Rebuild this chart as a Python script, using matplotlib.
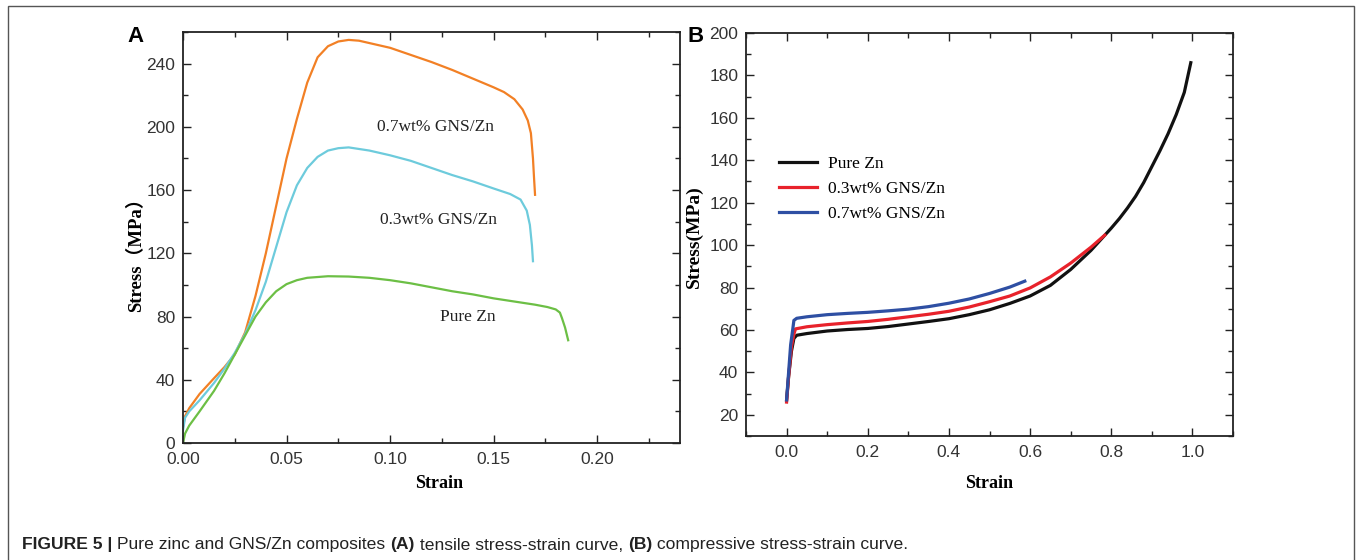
import matplotlib
matplotlib.use("Agg")
import matplotlib.pyplot as plt
from matplotlib.patches import Rectangle
from matplotlib.ticker import MultipleLocator, FormatStrFormatter

# ---------------- data: (A) tensile ----------------
a_x_07 = [0, 0.001, 0.003, 0.008, 0.015, 0.02, 0.025, 0.03, 0.035, 0.04, 0.045, 0.05,
          0.055, 0.06, 0.065, 0.07, 0.075, 0.08, 0.085, 0.09, 0.10, 0.11, 0.12, 0.13,
          0.14, 0.15, 0.155, 0.16, 0.164, 0.1665, 0.168, 0.169, 0.1695, 0.170]
a_y_07 = [10, 17, 22, 31, 41, 48, 56, 70, 93, 120, 150, 180,
          205, 228, 244, 251, 254, 255, 254.5, 253, 250, 245.5, 241, 236,
          230.5, 225, 222, 217.5, 211, 204, 196, 180, 168, 157]

a_x_03 = [0, 0.001, 0.003, 0.008, 0.015, 0.02, 0.025, 0.03, 0.035, 0.04, 0.045, 0.05,
          0.055, 0.06, 0.065, 0.07, 0.075, 0.08, 0.09, 0.10, 0.11, 0.12, 0.13, 0.14,
          0.15, 0.158, 0.163, 0.166, 0.1675, 0.1685, 0.169]
a_y_03 = [8, 16, 20, 27, 38, 47, 57, 69, 84, 102, 124, 146,
          163, 174, 181, 185, 186.5, 187, 185, 182, 178.5, 174, 169.5, 165.5,
          161, 157.5, 154, 147, 138, 125, 115]

a_x_pure = [0, 0.001, 0.003, 0.008, 0.015, 0.02, 0.025, 0.03, 0.035, 0.04, 0.045, 0.05,
            0.055, 0.06, 0.07, 0.08, 0.09, 0.10, 0.11, 0.12, 0.13, 0.14, 0.15, 0.16,
            0.17, 0.176, 0.18, 0.182, 0.183, 0.1845, 0.186]
a_y_pure = [0, 6, 11, 20, 33, 44, 56, 68, 80, 89, 96, 100.5,
            103, 104.5, 105.5, 105.3, 104.5, 103, 101, 98.5, 96, 94, 91.5, 89.5,
            87.5, 86, 84.5, 82.5, 79, 73, 65]

# ---------------- data: (B) compressive ----------------
b_x_pure = [0, 0.005, 0.012, 0.018, 0.025, 0.05, 0.1, 0.15, 0.2, 0.25, 0.3, 0.35, 0.4,
            0.45, 0.5, 0.55, 0.6, 0.65, 0.7, 0.75, 0.8, 0.82, 0.84, 0.86, 0.88, 0.9,
            0.92, 0.94, 0.96, 0.98, 0.996]
b_y_pure = [27, 38, 50, 56, 57.5, 58.3, 59.5, 60.2, 60.7, 61.6, 62.8, 64, 65.3,
            67.2, 69.5, 72.5, 76, 81, 88.5, 97.5, 108, 112.5, 117.5, 123, 129.5, 137,
            144.5, 152.5, 161.5, 172, 186]

b_x_03 = [0, 0.005, 0.012, 0.018, 0.022, 0.05, 0.1, 0.15, 0.2, 0.25, 0.3, 0.35, 0.4,
          0.45, 0.5, 0.55, 0.6, 0.65, 0.7, 0.75, 0.784]
b_y_03 = [26, 38, 52, 58, 60.5, 61.5, 62.5, 63.3, 64, 65, 66.2, 67.4, 68.8,
          70.8, 73.3, 76, 79.8, 85, 91.5, 99, 104.7]

b_x_07 = [0, 0.005, 0.01, 0.015, 0.018, 0.025, 0.05, 0.1, 0.15, 0.2, 0.25, 0.3, 0.35,
          0.4, 0.45, 0.5, 0.55, 0.587]
b_y_07 = [27, 40, 53, 60, 64.5, 65.5, 66.2, 67.2, 67.8, 68.3, 69, 69.8, 71,
          72.6, 74.6, 77.2, 80.2, 83]

labels = ["Pure Zn", "0.3wt% GNS/Zn", "0.7wt% GNS/Zn"]

W, H = 1358, 560
fig = plt.figure(figsize=(W / 100, H / 100), dpi=100)

def px_axes(l, t, r, b):
    return fig.add_axes([l / W, 1 - b / H, (r - l) / W, (b - t) / H])

SERIF = ["Liberation Serif", "DejaVu Serif"]

def style(ax):
    ax.tick_params(which="both", direction="in", top=True, right=True,
                   labelsize=12.5, width=1.0, colors="#222222")
    ax.tick_params(which="major", length=6)
    ax.tick_params(which="minor", length=3.5)
    ax.tick_params(axis="x", pad=6.5)
    ax.tick_params(axis="y", pad=5.5)
    for s in ax.spines.values():
        s.set_linewidth(1.3)
        s.set_color("#222222")
    for lab in ax.get_xticklabels() + ax.get_yticklabels():
        lab.set_fontfamily(["Liberation Sans", "DejaVu Sans"])
        lab.set_color("#333333")

# ---------- panel A ----------
axA = px_axes(183, 32, 680, 443)
axA.plot(a_x_07, a_y_07, color="#F28025", lw=1.6)
axA.plot(a_x_03, a_y_03, color="#6DCBDC", lw=1.6)
axA.plot(a_x_pure, a_y_pure, color="#6CBF45", lw=1.6)
axA.set_xlim(0, 0.24)
axA.set_ylim(0, 260)
axA.xaxis.set_major_locator(MultipleLocator(0.05))
axA.xaxis.set_minor_locator(MultipleLocator(0.025))
axA.yaxis.set_major_locator(MultipleLocator(40))
axA.yaxis.set_minor_locator(MultipleLocator(20))
axA.xaxis.set_major_formatter(FormatStrFormatter("%.2f"))
style(axA)
axA.text(0.122, 200, labels[2], fontsize=12.5, family=SERIF, ha="center", va="center", color="#222222")
axA.text(0.1235, 141, labels[1], fontsize=12.5, family=SERIF, ha="center", va="center", color="#222222")
axA.text(0.1377, 79.5, labels[0], fontsize=12.5, family=SERIF, ha="center", va="center", color="#222222")
fig.text(439 / W, 1 - 483 / H, "Strain", fontsize=13, fontweight="bold", family=SERIF,
         ha="center", va="center")
fig.text(136 / W, 1 - 250 / H, "Stress（MPa）", fontsize=13.5, fontweight="bold",
         family=["Liberation Serif", "Noto Sans CJK SC"], rotation=90, ha="center", va="center")
fig.text(135 / W, 1 - 36 / H, "A", fontsize=16, fontweight="bold",
         family=["Liberation Sans", "DejaVu Sans"], ha="center", va="center")

# ---------- panel B ----------
axB = px_axes(746, 33, 1233, 436)
axB.plot(b_x_pure, b_y_pure, color="#111111", lw=2.3, label=labels[0])
axB.plot(b_x_03, b_y_03, color="#E8222B", lw=2.3, label=labels[1])
axB.plot(b_x_07, b_y_07, color="#2E4FA3", lw=2.3, label=labels[2])
axB.set_xlim(-0.1, 1.1)
axB.set_ylim(10, 200)
axB.xaxis.set_major_locator(MultipleLocator(0.2))
axB.xaxis.set_minor_locator(MultipleLocator(0.1))
axB.yaxis.set_major_locator(MultipleLocator(20))
axB.yaxis.set_minor_locator(MultipleLocator(10))
axB.xaxis.set_major_formatter(FormatStrFormatter("%.1f"))
style(axB)
axB.legend(loc="upper left", bbox_to_anchor=((772 - 746) / 487, (436 - 149) / 403),
           frameon=False, prop={"family": SERIF, "size": 12.5},
           handlelength=2.2, handletextpad=0.65, labelspacing=0.5, borderaxespad=0)
fig.text(989 / W, 1 - 483 / H, "Strain", fontsize=13, fontweight="bold", family=SERIF,
         ha="center", va="center")
fig.text(694 / W, 1 - 237 / H, "Stress(MPa)", fontsize=14, fontweight="bold",
         family=SERIF, rotation=90, ha="center", va="center")
fig.text(696 / W, 1 - 37 / H, "B", fontsize=16, fontweight="bold",
         family=["Liberation Sans", "DejaVu Sans"], ha="center", va="center")

# ---------- frame + caption ----------
fig.patches.append(Rectangle((8 / W, -0.1), (1354 - 8) / W, 1.1 - 6 / H,
                             transform=fig.transFigure, fill=False,
                             edgecolor="#555555", lw=1.0))

cap_parts = [("FIGURE 5 | ", "bold"), ("Pure zinc and GNS/Zn composites ", "normal"),
             ("(A)", "bold"), (" tensile stress-strain curve, ", "normal"),
             ("(B)", "bold"), (" compressive stress-strain curve.", "normal")]
NARROW = ["Liberation Sans Narrow", "Liberation Sans", "DejaVu Sans"]
renderer = fig.canvas.get_renderer()
x0 = 22
for txt, wt in cap_parts:
    t = fig.text(x0 / W, 1 - 545 / H, txt, fontsize=12.6, fontweight=wt, family=NARROW,
                 ha="left", va="center", color="#222222")
    x0 += t.get_window_extent(renderer).width

fig.savefig("out.png", dpi=100)
